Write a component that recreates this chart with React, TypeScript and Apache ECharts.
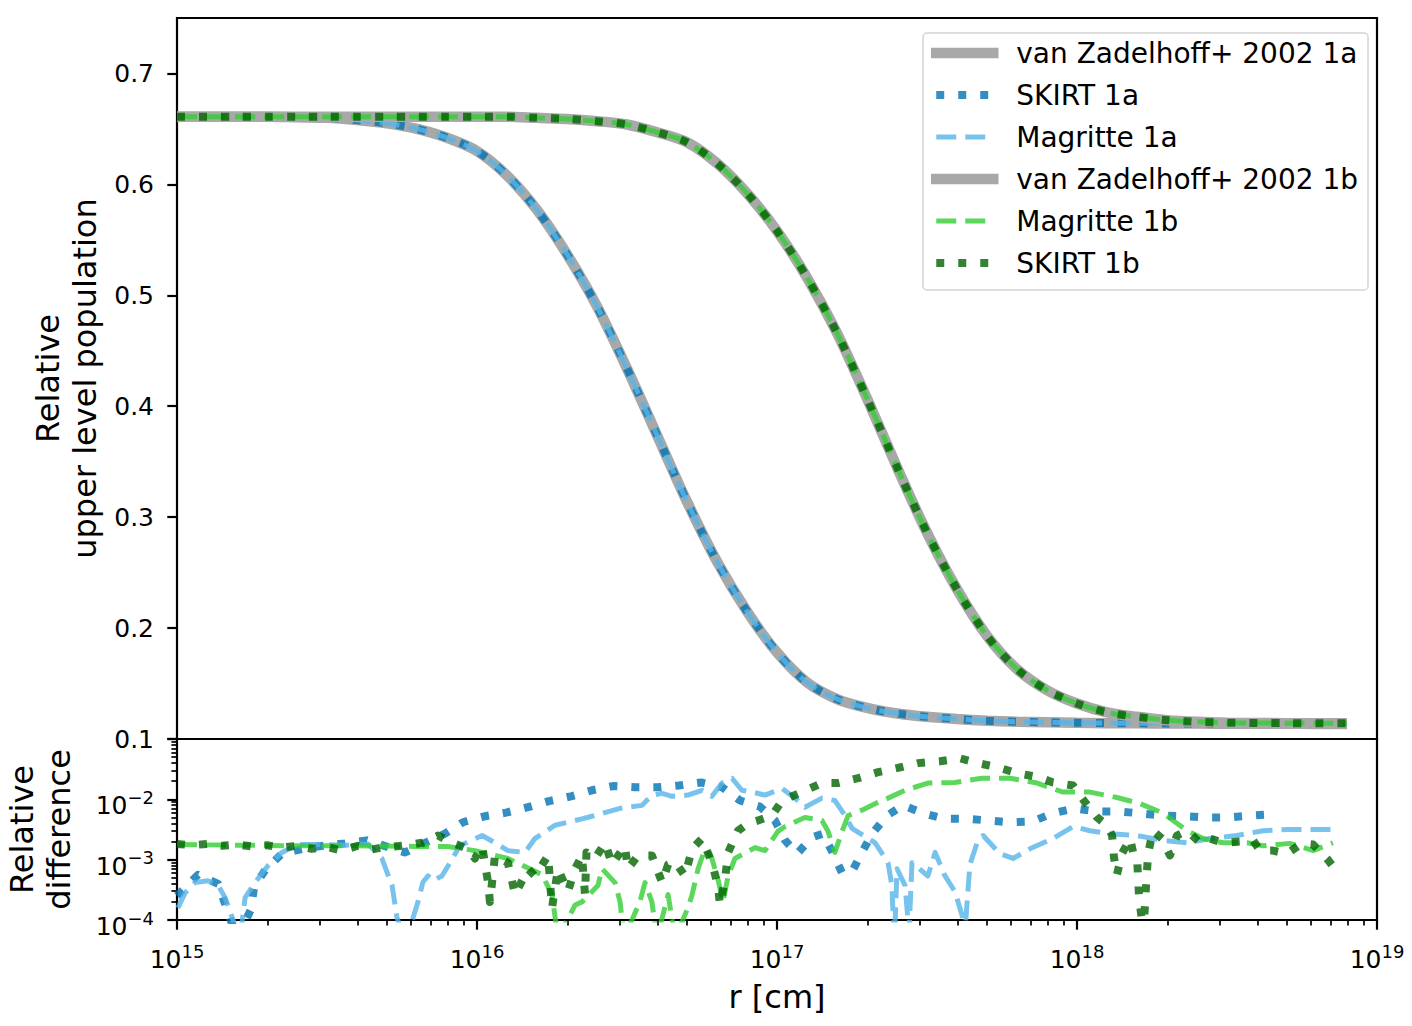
import React, { useEffect, useRef } from "react";
import * as echarts from "echarts";

const FONT = "'DejaVu Sans', 'Liberation Sans', sans-serif";

// ---- top panel: log10(r [cm]) grid and relative upper level populations ----
const logRGrid = [
  15.0, 15.1, 15.2, 15.3, 15.4, 15.5, 15.6, 15.7, 15.8, 15.9,
  16.0, 16.1, 16.2, 16.3, 16.4, 16.5, 16.6, 16.7, 16.8, 16.9,
  17.0, 17.1, 17.2, 17.3, 17.4, 17.5, 17.6, 17.7, 17.8, 17.9,
  18.0, 18.1, 18.2, 18.3, 18.4, 18.5, 18.6, 18.7, 18.8, 18.9,
];
const vanZadelhoff1a = [
  0.661, 0.661, 0.661, 0.661, 0.6605, 0.66, 0.658, 0.655, 0.65, 0.642,
  0.63, 0.608, 0.577, 0.537, 0.49, 0.434, 0.374, 0.314, 0.26, 0.215,
  0.178, 0.151, 0.136, 0.128, 0.123, 0.12, 0.118, 0.1165, 0.1155, 0.115,
  0.1146, 0.1143, 0.1141, 0.114, 0.1139, 0.1138, 0.1137, 0.1137, 0.1136, 0.1136,
];
const vanZadelhoff1b = [
  0.661, 0.661, 0.661, 0.661, 0.661, 0.661, 0.661, 0.661, 0.661, 0.661,
  0.661, 0.661, 0.66, 0.659, 0.657, 0.654, 0.647, 0.638, 0.619, 0.592,
  0.558, 0.516, 0.466, 0.407, 0.345, 0.286, 0.235, 0.193, 0.163, 0.144,
  0.132, 0.124, 0.12, 0.117, 0.1155, 0.1147, 0.1144, 0.1143, 0.1142, 0.1142,
];
// SKIRT / Magritte populations coincide with the reference curves at this scale
const skirt1aTop = vanZadelhoff1a;
const magritte1aTop = vanZadelhoff1a;
const magritte1bTop = vanZadelhoff1b;
const skirt1bTop = vanZadelhoff1b;

// ---- bottom panel: [log10 r, log10 relative difference] ----
const skirt1aDiff = [
  [15.0, -3.6], [15.07, -3.25], [15.137, -3.4], [15.16, -3.73], [15.2, -4.3], [15.247, -3.82],
  [15.257, -3.45], [15.297, -3.15], [15.35, -2.9], [15.437, -2.8], [15.56, -2.73], [15.633, -2.68],
  [15.76, -2.88], [15.827, -2.72], [15.893, -2.57], [15.953, -2.38], [16.027, -2.28], [16.097, -2.22],
  [16.17, -2.13], [16.24, -2.03], [16.313, -1.95], [16.383, -1.85], [16.453, -1.78], [16.527, -1.8],
  [16.6, -1.8], [16.673, -1.77], [16.747, -1.72], [16.817, -1.8], [16.877, -2.02], [16.943, -2.12],
  [16.993, -2.35], [17.027, -2.68], [17.067, -2.9], [17.117, -2.63], [17.153, -2.57], [17.187, -2.9],
  [17.217, -3.22], [17.25, -3.2], [17.283, -2.88], [17.317, -2.57], [17.367, -2.27], [17.42, -2.1],
  [17.487, -2.23], [17.557, -2.32], [17.63, -2.32], [17.703, -2.35], [17.777, -2.38], [17.85, -2.37],
  [17.92, -2.23], [17.99, -2.15], [18.063, -2.2], [18.137, -2.2], [18.207, -2.23], [18.283, -2.27],
  [18.353, -2.28], [18.43, -2.3], [18.503, -2.3], [18.577, -2.27], [18.65, -2.25],
];
const magritte1aDiff = [
  [15.003, -3.8], [15.027, -3.55], [15.06, -3.38], [15.103, -3.35], [15.137, -3.42], [15.16, -3.63],
  [15.183, -3.95], [15.21, -4.3], [15.227, -3.63], [15.26, -3.38], [15.303, -3.1], [15.35, -2.88],
  [15.403, -2.75], [15.483, -2.75], [15.56, -2.76], [15.637, -2.74], [15.683, -2.98], [15.717, -3.43],
  [15.733, -3.95], [15.76, -4.4], [15.803, -3.7], [15.82, -3.37], [15.837, -3.27], [15.853, -3.35],
  [15.883, -3.27], [15.91, -3.05], [15.943, -2.77], [16.017, -2.6], [16.06, -2.72], [16.103, -2.85],
  [16.16, -2.88], [16.193, -2.65], [16.26, -2.43], [16.353, -2.32], [16.383, -2.28], [16.477, -2.15],
  [16.55, -2.1], [16.583, -1.93], [16.617, -1.9], [16.65, -1.95], [16.703, -1.93], [16.75, -1.85],
  [16.783, -1.95], [16.817, -1.73], [16.85, -1.65], [16.883, -1.85], [16.917, -1.88], [16.96, -1.93],
  [17.017, -1.82], [17.06, -1.98], [17.093, -2.13], [17.15, -1.98], [17.193, -2.02], [17.227, -2.27],
  [17.25, -2.48], [17.327, -2.72], [17.37, -3.05], [17.383, -3.43], [17.387, -3.92], [17.392, -4.3],
  [17.4, -3.15], [17.427, -3.43], [17.44, -4.2], [17.45, -3.05], [17.503, -3.27], [17.527, -2.88],
  [17.56, -3.27], [17.593, -3.53], [17.617, -3.92], [17.625, -4.3], [17.643, -3.08], [17.667, -2.72],
  [17.687, -2.6], [17.743, -2.9], [17.787, -2.98], [17.843, -2.82], [17.92, -2.65], [17.987, -2.45],
  [18.043, -2.52], [18.11, -2.57], [18.2, -2.6], [18.287, -2.68], [18.367, -2.72], [18.443, -2.65],
  [18.533, -2.6], [18.62, -2.52], [18.7, -2.5], [18.787, -2.5], [18.853, -2.5],
];
const magritte1bDiff = [
  [15.0, -2.75], [15.2, -2.76], [15.4, -2.77], [15.6, -2.77], [15.8, -2.78], [15.9, -2.78],
  [15.993, -2.85], [16.103, -2.98], [16.217, -3.25], [16.25, -3.58], [16.27, -4.3], [16.327, -3.75],
  [16.35, -3.7], [16.403, -3.43], [16.417, -3.15], [16.46, -3.38], [16.477, -3.7], [16.49, -4.3],
  [16.543, -3.7], [16.56, -3.38], [16.583, -3.7], [16.6, -4.3], [16.637, -3.58], [16.66, -4.3],
  [16.703, -3.8], [16.717, -3.58], [16.737, -3.15], [16.76, -2.82], [16.783, -2.98], [16.803, -3.32],
  [16.82, -3.7], [16.837, -3.27], [16.86, -2.98], [16.927, -2.8], [16.96, -2.85], [17.003, -2.53],
  [17.027, -2.45], [17.093, -2.3], [17.15, -2.35], [17.17, -2.53], [17.193, -2.88], [17.217, -2.53],
  [17.237, -2.27], [17.283, -2.18], [17.337, -2.05], [17.37, -1.98], [17.427, -1.85], [17.503, -1.73],
  [17.593, -1.72], [17.683, -1.65], [17.777, -1.65], [17.867, -1.73], [17.953, -1.88], [18.043, -1.88],
  [18.133, -1.97], [18.21, -2.07], [18.287, -2.23], [18.367, -2.52], [18.42, -2.65], [18.487, -2.72],
  [18.567, -2.72], [18.62, -2.77], [18.71, -2.73], [18.787, -2.85], [18.853, -2.72],
];
const skirt1bDiff = [
  [15.0, -2.74], [15.05, -2.76], [15.1, -2.74], [15.15, -2.77], [15.2, -2.75], [15.25, -2.78],
  [15.3, -2.76], [15.35, -2.8], [15.4, -2.77], [15.45, -2.82], [15.5, -2.79], [15.55, -2.85],
  [15.603, -2.77], [15.65, -2.83], [15.683, -2.8], [15.75, -2.77], [15.817, -2.72], [15.87, -2.6],
  [15.917, -2.72], [15.97, -2.82], [15.993, -2.98], [16.017, -2.77], [16.037, -3.38], [16.043, -3.7],
  [16.06, -2.93], [16.103, -3.05], [16.127, -3.58], [16.17, -3.15], [16.193, -3.27], [16.237, -2.93],
  [16.25, -3.8], [16.27, -3.15], [16.303, -3.53], [16.327, -3.15], [16.35, -2.93], [16.36, -3.58],
  [16.365, -2.88], [16.393, -2.98], [16.427, -2.72], [16.45, -3.08], [16.493, -2.77], [16.503, -3.15],
  [16.537, -2.93], [16.583, -2.93], [16.617, -3.38], [16.637, -3.08], [16.66, -3.03], [16.693, -3.27],
  [16.717, -2.82], [16.75, -2.65], [16.783, -3.05], [16.803, -3.43], [16.81, -3.75], [16.827, -3.32],
  [16.837, -2.88], [16.87, -2.52], [16.903, -2.4], [16.937, -2.35], [16.983, -2.27], [17.017, -2.02],
  [17.083, -1.88], [17.15, -1.73], [17.203, -1.73], [17.27, -1.65], [17.337, -1.55], [17.403, -1.48],
  [17.47, -1.4], [17.543, -1.37], [17.61, -1.32], [17.67, -1.4], [17.737, -1.47], [17.803, -1.57],
  [17.87, -1.63], [17.92, -1.72], [17.987, -1.77], [18.027, -2.05], [18.067, -2.3], [18.1, -2.43],
  [18.117, -2.6], [18.123, -2.95], [18.133, -3.25], [18.15, -2.9], [18.177, -2.65], [18.187, -2.88],
  [18.2, -2.95], [18.207, -3.63], [18.215, -3.95], [18.22, -4.4], [18.228, -3.6], [18.237, -2.9],
  [18.253, -2.52], [18.283, -2.65], [18.31, -2.93], [18.333, -2.6], [18.367, -2.52], [18.41, -2.72],
  [18.443, -2.65], [18.487, -2.72], [18.543, -2.7], [18.587, -2.68], [18.61, -2.85], [18.653, -2.85],
  [18.7, -2.9], [18.75, -2.73], [18.787, -2.75], [18.833, -2.98], [18.867, -3.2],
];

// ---- ticks ----
const xMajorTicks = [15, 16, 17, 18, 19];
const topYTicks = [0.1, 0.2, 0.3, 0.4, 0.5, 0.6, 0.7];
const diffMajorTicks = [-4, -3, -2, -1];
const minorMultipliers = [2, 3, 4, 5, 6, 7, 8, 9];
const xMinorTicks = xMajorTicks.slice(0, -1).flatMap((d) => minorMultipliers.map((k) => d + Math.log10(k)));
const yMinorTicks = diffMajorTicks.slice(0, -1).flatMap((d) => minorMultipliers.map((k) => d + Math.log10(k)));

const GRAY = "#a8a8a8";
const S1A = "#0072b2";
const M1A = "#56b4e9";
const M1B = "#32cd32";
const S1B = "#006400";
const DOTS = [8, 14];
const DASH = [20, 9];

const legendItems = [
  { name: "van Zadelhoff+ 2002 1a", color: GRAY, width: 10.5, type: "solid", opacity: 1, cap: "square" },
  { name: "SKIRT 1a", color: S1A, width: 8, type: DOTS, opacity: 0.8, cap: "butt" },
  { name: "Magritte 1a", color: M1A, width: 5, type: DASH, opacity: 0.8, cap: "butt" },
  { name: "van Zadelhoff+ 2002 1b", color: GRAY, width: 10.5, type: "solid", opacity: 1, cap: "square" },
  { name: "Magritte 1b", color: M1B, width: 5, type: DASH, opacity: 0.8, cap: "butt" },
  { name: "SKIRT 1b", color: S1B, width: 8, type: DOTS, opacity: 0.8, cap: "butt" },
];

const supRich = {
  b: { fontSize: 25, fontFamily: FONT, color: "#000", lineHeight: 30, verticalAlign: "bottom" },
  s: { fontSize: 18, fontFamily: FONT, color: "#000", verticalAlign: "top" },
};

function topSeries(name: string, arr: number[], color: string, width: number, type: any, opacity: number) {
  return {
    name,
    type: "line",
    xAxisIndex: 0,
    yAxisIndex: 0,
    data: logRGrid.map((x, i) => [x, arr[i]]),
    showSymbol: false,
    symbol: "none",
    smooth: 0.3,
    lineStyle: { color, width, type, opacity, cap: "butt" },
    itemStyle: { color, opacity },
  };
}
function diffSeries(name: string, arr: number[][], color: string, width: number, type: any, opacity: number) {
  return {
    name,
    type: "line",
    xAxisIndex: 1,
    yAxisIndex: 1,
    data: arr,
    showSymbol: false,
    symbol: "none",
    lineStyle: { color, width, type, opacity, cap: "butt", join: "round" },
    itemStyle: { color, opacity },
  };
}

export default function App() {
  const ref = useRef<HTMLDivElement>(null);
  useEffect(() => {
    document.body.style.margin = "0";
    const chart = echarts.init(ref.current!, null, { renderer: "svg" });
    const option: any = {
      animation: false,
      backgroundColor: "#fff",
      textStyle: { fontFamily: FONT, color: "#000" },
      grid: [
        { left: 177, top: 18, width: 1200, height: 721, show: true, borderColor: "#000", borderWidth: 2.2, backgroundColor: "transparent", containLabel: false, outerBoundsMode: "none" },
        { left: 177, top: 739, width: 1200, height: 181, show: true, borderColor: "#000", borderWidth: 2.2, backgroundColor: "transparent", containLabel: false, outerBoundsMode: "none" },
      ],
      legend: {
        data: legendItems.map((it) => ({
          name: it.name,
          lineStyle: { color: it.color, width: it.width, type: it.type, opacity: it.opacity, cap: it.cap },
          itemStyle: { opacity: 0 },
        })),
        orient: "vertical",
        left: 923,
        top: 33,
        padding: [5, 10, 12, 8],
        itemWidth: 57,
        itemHeight: 14,
        itemGap: 12,
        borderColor: "#d4d4d4",
        borderWidth: 1.5,
        borderRadius: 4,
        backgroundColor: "rgba(255,255,255,0.8)",
        itemStyle: { opacity: 0 },
        textStyle: { fontSize: 28, fontFamily: FONT, color: "#000", lineHeight: 30, padding: [0, 0, 0, 18] },
      },
      xAxis: [
        {
          gridIndex: 0, type: "value", min: 15, max: 19, interval: 1,
          axisLine: { show: false }, axisTick: { show: false }, axisLabel: { show: false }, splitLine: { show: false },
        },
        {
          gridIndex: 1, type: "value", min: 15, max: 19, interval: 1, position: "bottom",
          axisLine: { show: false }, splitLine: { show: false },
          axisTick: { show: true, length: 9.7, lineStyle: { color: "#000", width: 2.2 } },
          axisLabel: { margin: 22, formatter: (v: number) => `{b|10}{s|${v}}`, rich: supRich },
          name: "r [cm]", nameLocation: "middle", nameGap: 58, nameMoveOverlap: false,
          nameTextStyle: { fontSize: 32, fontFamily: FONT, color: "#000", lineHeight: 37 },
        },
        {
          gridIndex: 1, type: "value", min: 15, max: 19, position: "bottom",
          axisLine: { show: false }, splitLine: { show: false }, axisLabel: { show: false },
          axisTick: { show: true, customValues: xMinorTicks, length: 5.6, lineStyle: { color: "#000", width: 1.7 } },
        },
      ],
      yAxis: [
        {
          gridIndex: 0, type: "value", min: 0.1, max: 0.75, position: "left",
          axisLine: { show: false }, splitLine: { show: false },
          axisTick: { show: true, customValues: topYTicks, length: 9.7, lineStyle: { color: "#000", width: 2.2 } },
          axisLabel: { customValues: topYTicks, margin: 23, fontSize: 25, fontFamily: FONT, color: "#000", formatter: (v: number) => v.toFixed(1) },
          name: "Relative\nupper level population", nameLocation: "middle", nameGap: 74, nameMoveOverlap: false,
          nameTextStyle: { fontSize: 32, fontFamily: FONT, color: "#000", lineHeight: 37, align: "center" },
        },
        {
          gridIndex: 1, type: "value", min: -4, max: -1, interval: 1, position: "left",
          axisLine: { show: false }, splitLine: { show: false },
          axisTick: { show: true, length: 9.7, lineStyle: { color: "#000", width: 2.2 } },
          axisLabel: {
            margin: 23, padding: [8, 0, 0, 0],
            formatter: (v: number) => (v === -1 ? "" : `{b|10}{s|\u2212${-v}}`), rich: supRich,
          },
          name: "Relative\ndifference", nameLocation: "middle", nameGap: 100, nameMoveOverlap: false,
          nameTextStyle: { fontSize: 32, fontFamily: FONT, color: "#000", lineHeight: 37, align: "center" },
        },
        {
          gridIndex: 1, type: "value", min: -4, max: -1, position: "left",
          axisLine: { show: false }, splitLine: { show: false }, axisLabel: { show: false },
          axisTick: { show: true, customValues: yMinorTicks, length: 5.6, lineStyle: { color: "#000", width: 1.7 } },
        },
      ],
      series: [
        topSeries("van Zadelhoff+ 2002 1a", vanZadelhoff1a, GRAY, 10.5, "solid", 1),
        topSeries("SKIRT 1a", skirt1aTop, S1A, 8, DOTS, 0.8),
        topSeries("Magritte 1a", magritte1aTop, M1A, 5, DASH, 0.8),
        topSeries("van Zadelhoff+ 2002 1b", vanZadelhoff1b, GRAY, 10.5, "solid", 1),
        topSeries("Magritte 1b", magritte1bTop, M1B, 5, DASH, 0.8),
        topSeries("SKIRT 1b", skirt1bTop, S1B, 8, DOTS, 0.8),
        diffSeries("SKIRT 1a", skirt1aDiff, S1A, 8, DOTS, 0.8),
        diffSeries("Magritte 1a", magritte1aDiff, M1A, 5, DASH, 0.8),
        diffSeries("Magritte 1b", magritte1bDiff, M1B, 5, DASH, 0.8),
        diffSeries("SKIRT 1b", skirt1bDiff, S1B, 8, DOTS, 0.8),
      ],
    };
    chart.setOption(option);
    return () => chart.dispose();
  }, []);
  return <div ref={ref} style={{ width: 1412, height: 1026, background: "#fff" }} />;
}
